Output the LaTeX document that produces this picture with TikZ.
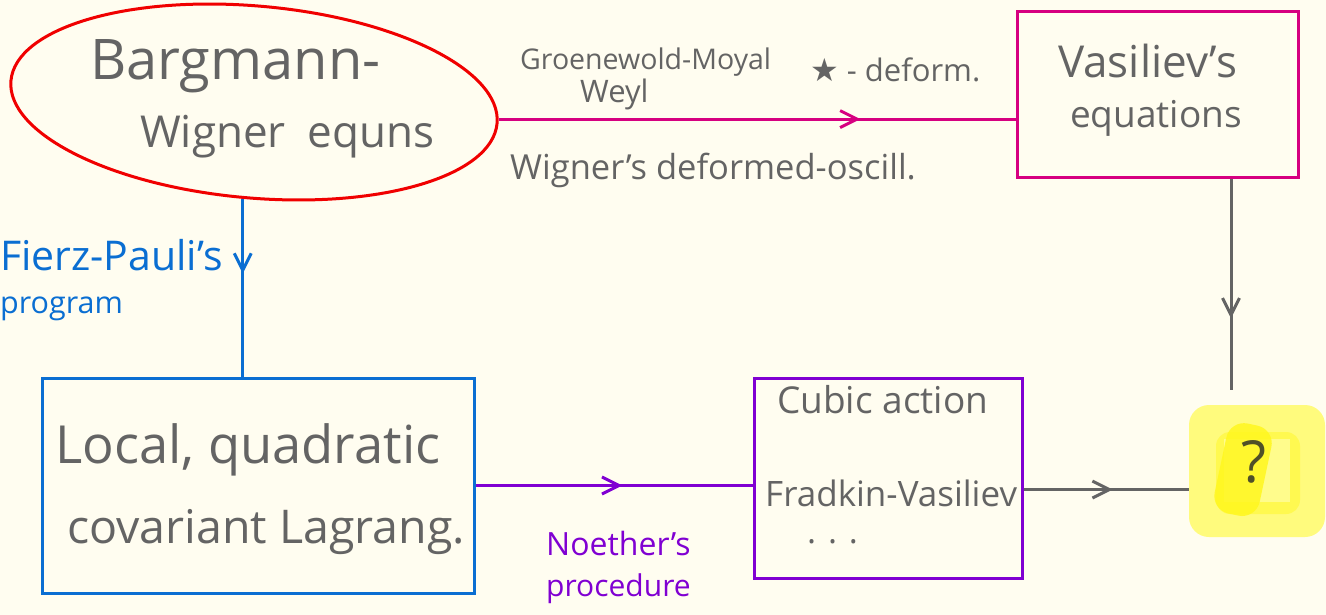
\documentclass[tikz,border=0pt]{standalone}
\usepackage{fontspec}
\setmainfont{Open Sans}
\newfontfamily\symfont{DejaVu Sans}
\usetikzlibrary{arrows.meta,decorations.markings,shapes.geometric}

\definecolor{paper}{RGB}{255,253,240}
\definecolor{ink}{RGB}{100,100,100}
\definecolor{qink}{RGB}{80,80,40}
\definecolor{magline}{RGB}{214,0,128}
\definecolor{redline}{RGB}{240,0,0}
\definecolor{blueline}{RGB}{10,110,210}
\definecolor{purpline}{RGB}{128,0,210}
\definecolor{hlbase}{RGB}{255,251,125}
\definecolor{hlmid}{RGB}{255,249,80}
\definecolor{hlstrong}{RGB}{255,247,30}
\definecolor{hlpale}{RGB}{255,252,140}

\newcommand{\fs}[1]{\fontsize{#1}{#1}\selectfont}

\begin{document}
\begin{tikzpicture}[x=1pt,y=-1pt,
  txt/.style={anchor=base west, inner sep=0pt, text=ink},
  boxline/.style={draw, line width=3pt, inner sep=0pt},
  conn/.style={line width=3pt},
  midarrow/.style={postaction={decorate}, decoration={markings,
      mark=at position #1 with {\arrow{Straight Barb[length=17pt,width=17pt]}}}}]

% canvas
\fill[paper] (0,0) rectangle (1326,615);
\useasboundingbox (0,0) rectangle (1326,615);

% highlighted unknown
\node[fill=hlbase, rounded corners=20pt, minimum width=136pt, minimum height=132pt, inner sep=0pt] (q) at (1257,471) {};
\fill[hlmid, rounded corners=14pt] (1216,432) rectangle (1300,514);
\fill[hlpale] (1224,439) rectangle (1290,502);
\fill[hlstrong, opacity=0.85, rounded corners=18pt, rotate around={-12:(1245,470)}] (1220,424) rectangle (1266,516);
\node[inner sep=0pt, text=qink, font=\fs{58}] (qm) at (1254,462) {?};

% boxes
\node[ellipse, boxline, draw=redline, minimum width=488pt, minimum height=192pt, rotate=-5] (bw) at (254,102) {};
\node[boxline, draw=magline, minimum width=281pt, minimum height=166pt] (vas) at (1157.5,95) {};
\node[boxline, draw=blueline, minimum width=432pt, minimum height=215pt] (loc) at (258,485.5) {};
\node[boxline, draw=purpline, minimum width=268pt, minimum height=200pt] (cub) at (888,478) {};

% connector anchor points
\path (loc.north west) -- (loc.north east) coordinate[pos=0.465] (locin);
\path (q.north west) -- (q.south west) coordinate[pos=0.64] (qin);
\coordinate (qtop) at (1231,390);

% connectors
\draw[conn, magline, midarrow=0.70] (bw.1.5) -- (vas.west |- bw.1.5);
\draw[conn, blueline, midarrow=0.42] (bw.south -| locin) -- (locin);
\draw[conn, purpline, midarrow=0.53] (loc.east) -- (cub.west |- loc.east);
\draw[conn, ink, midarrow=0.66] (vas.south -| qtop) -- (qtop);
\draw[conn, ink, midarrow=0.54] (cub.east |- qin) -- (qin);

% texts
\node[txt, font=\fs{56}] (t1) at (90,80) {Bargmann-};
\node[txt, font=\fs{44}] (t2) at (140,148) {Wigner\hspace{22pt}equns};

\node[txt, font=\fs{28.5}] (t3) at (520,70) {Groenewold-Moyal};
\node[txt, font=\fs{31}] (t4) at (580,103) {Weyl};
\node[txt, font=\fs{31}] (t5) at (810,82) {{\symfont\fs{32}★} - deform.};
\node[txt, font=\fs{34.5}] (t6) at (510,180) {Wigner's deformed-oscill.};

\node[txt, font=\fs{44}] (t7) at (1058,78) {Vasiliev's};
\node[txt, font=\fs{37}] (t8) at (1070,128) {equations};

\node[txt, text=blueline, font=\fs{41}] (t9) at (0,270) {Fierz-Pauli's};
\node[txt, text=blueline, font=\fs{30.5}] (t10) at (0,313) {program};

\node[txt, font=\fs{52.5}] (t11) at (55,463) {Local, quadratic};
\node[txt, font=\fs{46.5}] (t12) at (67,543) {covariant Lagrang.};

\node[txt, font=\fs{37}] (t13) at (777,413) {Cubic action};
\node[txt, font=\fs{35}] (t14) at (765,506) {Fradkin-Vasiliev};
\node[txt, font=\fs{34}] (t15) at (807,543) {. . .};

\node[txt, text=purpline, font=\fs{32}] (t16) at (546,555) {Noether's};
\node[txt, text=purpline, font=\fs{30}] (t17) at (546,596) {procedure};
\end{tikzpicture}
\end{document}
